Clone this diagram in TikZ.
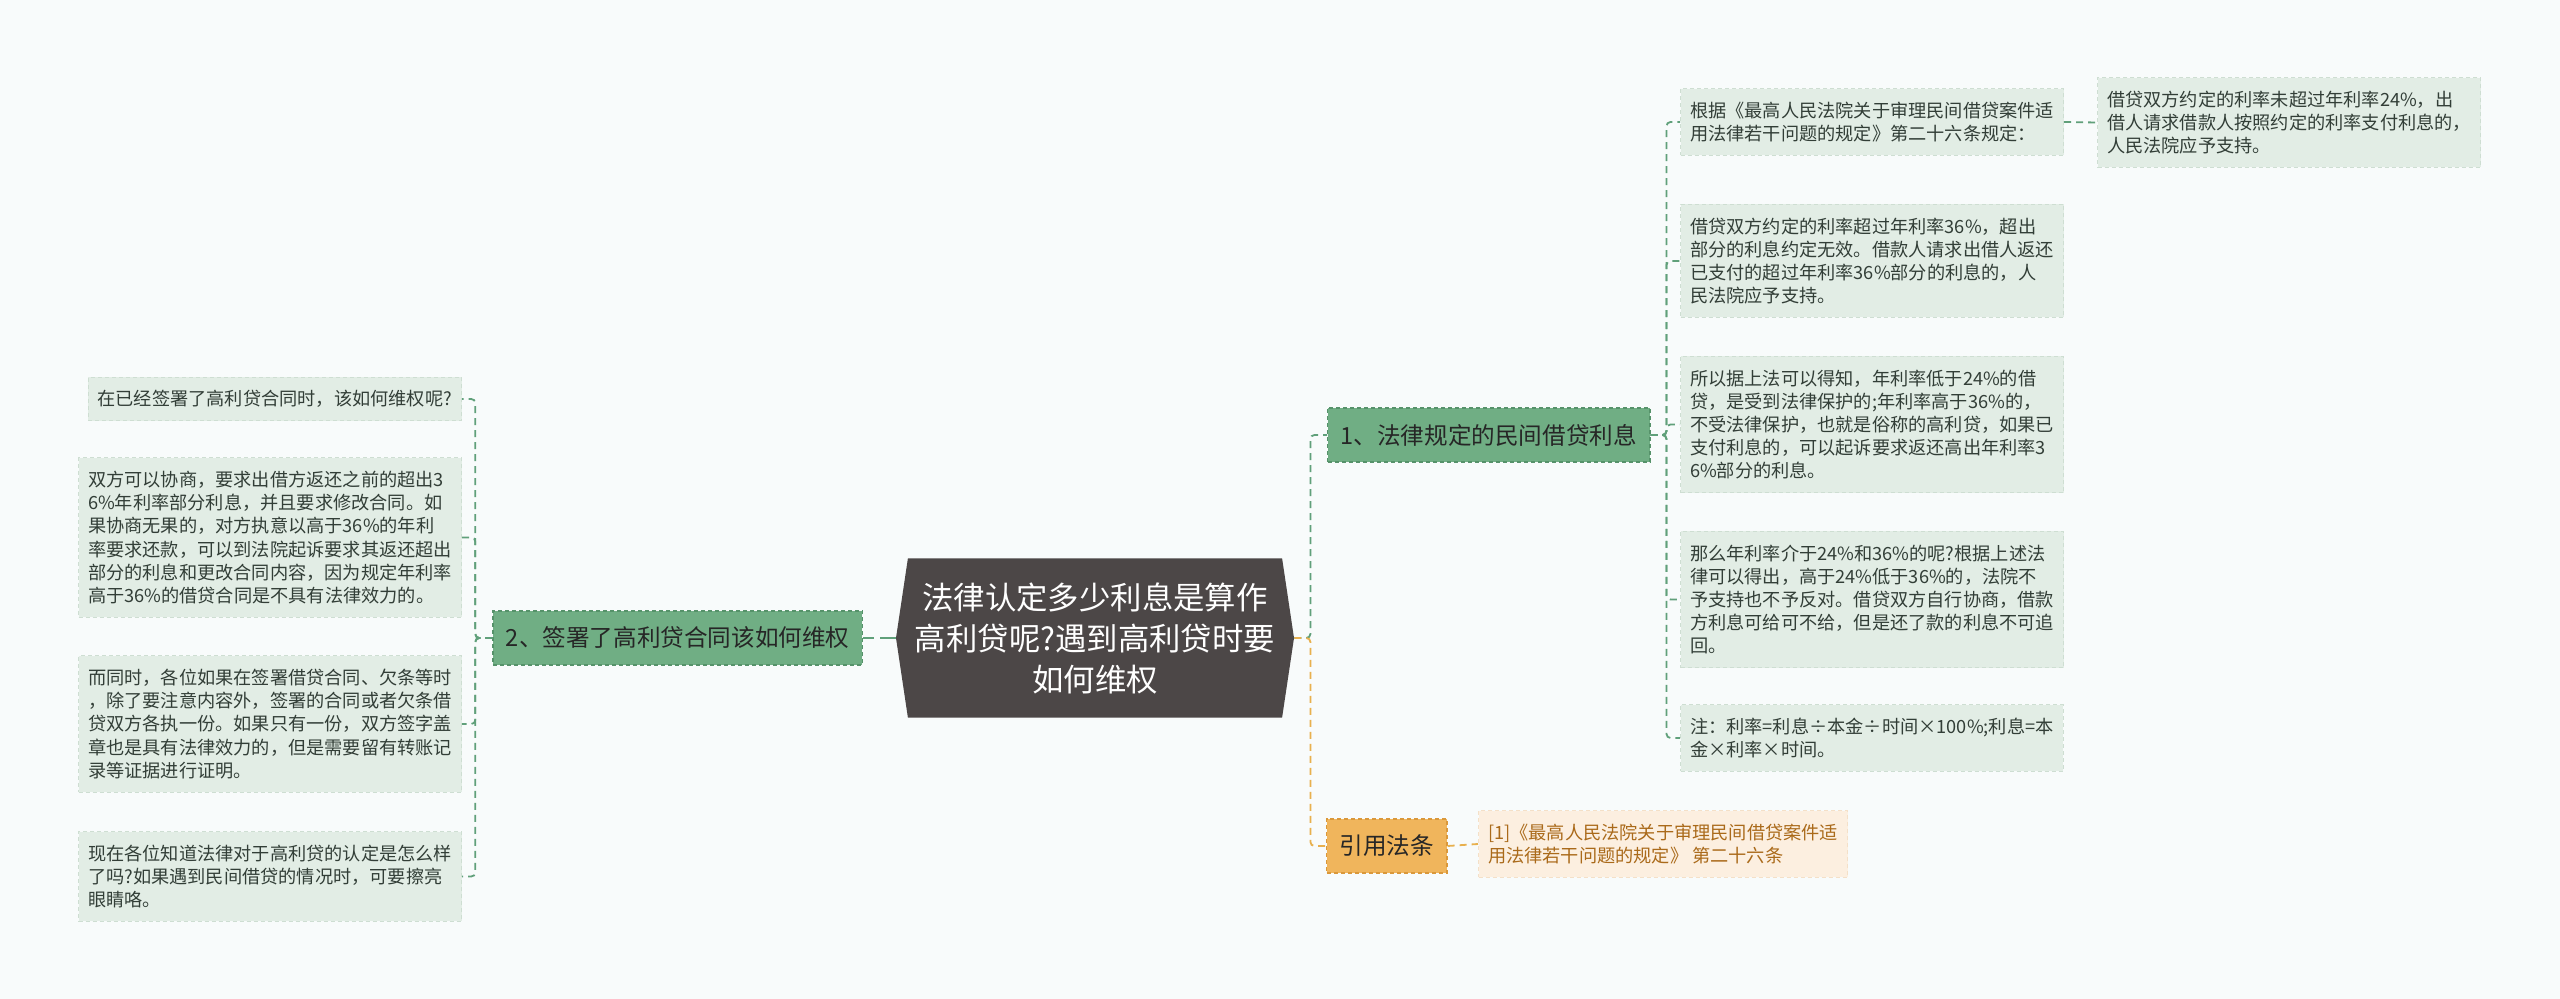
\documentclass[tikz,border=0pt]{standalone}
\usepackage{fontspec}
\setmainfont{Noto Sans CJK SC}
\usepackage{tikz}
\usetikzlibrary{shapes.symbols}

\definecolor{pagebg}{RGB}{248,251,251}
\definecolor{rootfill}{RGB}{76,71,71}
\definecolor{topicfill}{RGB}{112,174,132}
\definecolor{topicedge}{RGB}{86,146,106}
\definecolor{leaffill}{RGB}{226,237,229}
\definecolor{leafedge}{RGB}{206,222,210}
\definecolor{leaftext}{RGB}{50,62,55}
\definecolor{citefill}{RGB}{240,181,92}
\definecolor{citeedge}{RGB}{218,152,58}
\definecolor{reffill}{RGB}{252,239,224}
\definecolor{refedge}{RGB}{244,224,200}
\definecolor{reftext}{RGB}{170,106,26}
\definecolor{greenline}{RGB}{96,160,122}
\definecolor{orangeline}{RGB}{232,176,78}

\begin{document}
\begin{tikzpicture}[x=0.5pt, y=-0.5pt,
  rootbox/.style={signal, signal to=east and west, signal pointer angle=163,
    fill=rootfill, text=white, minimum width=199pt, minimum height=79.5pt,
    align=center, inner sep=0pt, font=\fontsize{15.7}{20.5}\selectfont},
  topicbox/.style={fill=topicfill, draw=topicedge, dash pattern=on 2pt off 1.5pt,
    line width=0.6pt, text=black!85, inner xsep=6.5pt, minimum height=27pt,
    font=\fontsize{11.8}{14}\selectfont},
  citebox/.style={topicbox, fill=citefill, draw=citeedge},
  leafbox/.style={fill=leaffill, draw=leafedge, dash pattern=on 2pt off 1.5pt,
    line width=0.5pt, text=leaftext, align=left, inner xsep=4.75pt,
    inner ysep=6.6pt, font=\fontsize{9.1}{11.6}\selectfont},
  refbox/.style={leafbox, fill=reffill, draw=refedge, text=reftext},
  glink/.style={draw=greenline, line width=0.9pt, dash pattern=on 3.5pt off 2.5pt,
    rounded corners=2pt},
  olink/.style={glink, draw=orangeline},
  rootlink/.style={draw=greenline, line width=1.3pt, dash pattern=on 8pt off 3pt}]

  % ---------------- page ----------------
  \useasboundingbox (0,0) rectangle (2560,999);
  \fill[pagebg] (0,0) rectangle (2560,999);

  % ---------------- centre and main topics ----------------
  \node[rootbox] (root) at (1095,638)
    {法律认定多少利息是算作\\高利贷呢?遇到高利贷时要\\如何维权};
  \node[topicbox, anchor=east] (t2) at (863,638) {2、签署了高利贷合同该如何维权};
  \node[topicbox, anchor=west] (t1) at (1327,435) {1、法律规定的民间借贷利息};
  \node[citebox, anchor=west] (cite) at (1326,846) {引用法条};

  % ---------------- left leaves ----------------
  \node[leafbox, anchor=east] (b1) at (462,399) {在已经签署了高利贷合同时，该如何维权呢?};
  \node[leafbox, anchor=east] (b2) at (462,537.5)
    {双方可以协商，要求出借方返还之前的超出3\\6\%年利率部分利息，并且要求修改合同。如\\果协商无果的，对方执意以高于36\%的年利\\率要求还款，可以到法院起诉要求其返还超出\\部分的利息和更改合同内容，因为规定年利率\\高于36\%的借贷合同是不具有法律效力的。};
  \node[leafbox, anchor=east] (b3) at (462,724)
    {而同时，各位如果在签署借贷合同、欠条等时\\，除了要注意内容外，签署的合同或者欠条借\\贷双方各执一份。如果只有一份，双方签字盖\\章也是具有法律效力的，但是需要留有转账记\\录等证据进行证明。};
  \node[leafbox, anchor=east] (b4) at (462,876.5)
    {现在各位知道法律对于高利贷的认定是怎么样\\了吗?如果遇到民间借贷的情况时，可要擦亮\\眼睛咯。};

  % ---------------- right leaves ----------------
  \node[leafbox, anchor=west] (r1) at (1680,122)
    {根据《最高人民法院关于审理民间借贷案件适\\用法律若干问题的规定》第二十六条规定：};
  \node[leafbox, anchor=west] (r2) at (1680,261)
    {借贷双方约定的利率超过年利率36\%，超出\\部分的利息约定无效。借款人请求出借人返还\\已支付的超过年利率36\%部分的利息的，人\\民法院应予支持。};
  \node[leafbox, anchor=west] (r3) at (1680,424.5)
    {所以据上法可以得知，年利率低于24\%的借\\贷，是受到法律保护的;年利率高于36\%的，\\不受法律保护，也就是俗称的高利贷，如果已\\支付利息的，可以起诉要求返还高出年利率3\\6\%部分的利息。};
  \node[leafbox, anchor=west] (r4) at (1680,599.5)
    {那么年利率介于24\%和36\%的呢?根据上述法\\律可以得出，高于24\%低于36\%的，法院不\\予支持也不予反对。借贷双方自行协商，借款\\方利息可给可不给，但是还了款的利息不可追\\回。};
  \node[leafbox, anchor=west] (r5) at (1680,738)
    {注：利率=利息÷本金÷时间×100\%;利息=本\\金×利率×时间。};
  \node[leafbox, anchor=west] (far) at (2097,122.5)
    {借贷双方约定的利率未超过年利率24\%，出\\借人请求借款人按照约定的利率支付利息的，\\人民法院应予支持。};
  \node[refbox, anchor=west] (ref) at (1478,844)
    {[1]《最高人民法院关于审理民间借贷案件适\\用法律若干问题的规定》 第二十六条};

  % ---------------- connectors ----------------
  \draw[rootlink] (root.west) -- (t2.east);
  \foreach \b in {b1,b2,b3,b4}
    \draw[glink] (t2.west) -- ++(-17,0) |- (\b.east);
  \draw[glink] (root.east) -- ++(16,0) |- (t1.west);
  \draw[olink] (root.east) -- ++(16,0) |- (cite.west);
  \foreach \r in {r1,r2,r3,r4,r5}
    \draw[glink] (t1.east) -- ++(16,0) |- (\r.west);
  \draw[glink] (r1.east) -- (far.west);
  \draw[olink] (cite.east) -- (ref.west);
\end{tikzpicture}
\end{document}
